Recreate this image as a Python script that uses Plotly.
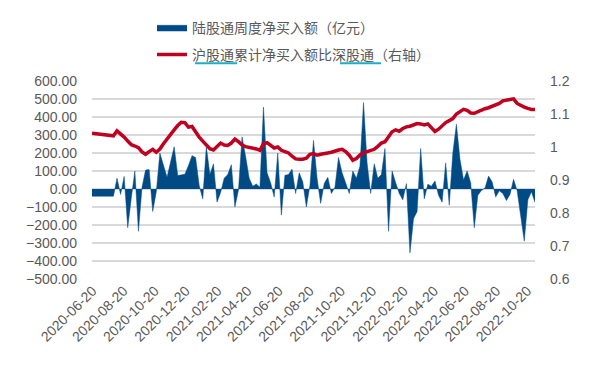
import pandas as pd
import plotly.graph_objects as go

# weekly dates
dates = pd.date_range("2020-06-19", periods=125, freq="7D")

# 陆股通周度净买入额（亿元）
weekly_net_buy = [
    -40, -40, -40, -40, -40, -40, -40, 60, -30, 70,
    -215, -50, 100, -235, 10, 105, 108, -125, -15, 200,
    130, 65, 150, 235, 75, 78, 82, 130, 185, 175,
    20, -55, 235, 80, 140, -73, -20, 60, 80, 135,
    -100, -5, 290, 180, 60, 15, 28, 10, 455, 90,
    35, -45, 200, -145, 76, 80, 110, -25, 90, 40,
    -100, 20, 270, 60, -80, 30, 65, -25, 10, 175,
    90, 35, -25, 100, 60, 127, 480, 145, -25, 140,
    60, 80, 225, -235, 100, 35, -25, -60, 30, -355,
    -165, -125, 225, -55, 27, 15, 45, -35, -73, 145,
    -90, 200, 360, 165, 50, 100, 35, -215, -35, -8,
    5, 72, 40, -45, -10, -25, -64, -30, 54, -10,
    -160, -290, -60, -15, -75,
]

# 沪股通累计净买入额比深股通（右轴）
sh_sz_ratio = [
    1.042, 1.041, 1.040, 1.039, 1.038, 1.036, 1.034, 1.049, 1.040, 1.030,
    1.018, 1.007, 1.003, 0.998, 0.985, 0.978, 0.986, 0.993, 0.984, 0.994,
    1.010, 1.025, 1.040, 1.052, 1.065, 1.075, 1.074, 1.060, 1.062, 1.045,
    1.030, 1.018, 1.005, 0.995, 0.991, 1.000, 1.012, 1.006, 1.005, 1.012,
    1.024, 1.016, 1.006, 1.001, 0.999, 0.997, 0.994, 0.990, 1.010, 1.013,
    1.005, 0.997, 1.000, 0.990, 0.986, 0.982, 0.972, 0.964, 0.963, 0.963,
    0.966, 0.978, 0.980, 0.975, 0.978, 0.981, 0.982, 0.984, 0.988, 0.991,
    0.993, 0.986, 0.975, 0.960, 0.965, 0.976, 0.982, 0.986, 0.989, 0.993,
    1.002, 1.012, 1.016, 1.030, 1.046, 1.052, 1.048, 1.056, 1.061, 1.063,
    1.066, 1.071, 1.070, 1.067, 1.070, 1.058, 1.047, 1.054, 1.064, 1.074,
    1.080, 1.086, 1.100, 1.108, 1.114, 1.111, 1.103, 1.102, 1.107, 1.112,
    1.116, 1.119, 1.124, 1.127, 1.132, 1.140, 1.142, 1.143, 1.146, 1.132,
    1.125, 1.121, 1.117, 1.114, 1.114,
]

x_tick_labels = [
    "2020-06-20", "2020-08-20", "2020-10-20", "2020-12-20", "2021-02-20",
    "2021-04-20", "2021-06-20", "2021-08-20", "2021-10-20", "2021-12-20",
    "2022-02-20", "2022-04-20", "2022-06-20", "2022-08-20", "2022-10-20",
]
left_ticks = [600, 500, 400, 300, 200, 100, 0, -100, -200, -300, -400, -500]
right_ticks = [1.2, 1.1, 1.0, 0.9, 0.8, 0.7, 0.6]

BLUE = "#004A86"
RED = "#C00020"
GRAY = "#595959"
GRID = "#D9D9D9"

fig = go.Figure()
fig.add_trace(go.Scatter(
    x=dates, y=weekly_net_buy, name="陆股通周度净买入额（亿元）",
    mode="lines", fill="tozeroy", fillcolor=BLUE,
    line=dict(color=BLUE, width=0.5), legendgroup="a",
))
fig.add_trace(go.Scatter(
    x=dates, y=sh_sz_ratio, name="沪股通累计净买入额比深股通（右轴）",
    mode="lines", line=dict(color=RED, width=3.5), yaxis="y2", legendgroup="b",
))

W, H = 593, 369
L, R, T, B = 92, 58, 79, 90
pw, ph = W - L - R, H - T - B


def px_x(p):
    return (p - L) / pw


def px_y(p):
    return (H - B - p) / ph


underline_color = "#1AAFC9"
shapes = [
    dict(type="line", xref="paper", yref="paper",
         x0=px_x(195), x1=px_x(237), y0=px_y(61), y1=px_y(61),
         line=dict(color=underline_color, width=2)),
    dict(type="line", xref="paper", yref="paper",
         x0=px_x(340), x1=px_x(381), y0=px_y(61), y1=px_y(61),
         line=dict(color=underline_color, width=2)),
]

fig.update_layout(
    width=W, height=H,
    margin=dict(l=L, r=R, t=T, b=B),
    paper_bgcolor="white", plot_bgcolor="white",
    font=dict(family="Liberation Sans, Arial, sans-serif", size=14, color=GRAY),
    showlegend=True,
    legend=dict(
        x=px_x(152), y=px_y(9), xanchor="left", yanchor="top",
        font=dict(family="Noto Sans CJK SC", size=14, color=GRAY),
        tracegroupgap=6, bgcolor="rgba(0,0,0,0)",
    ),
    xaxis=dict(
        type="date",
        range=[dates[0], dates[-1]],
        tickvals=x_tick_labels, ticktext=x_tick_labels,
        tickangle=-45, showgrid=False, showline=False, zeroline=False,
        ticks="", tickfont=dict(size=14, color=GRAY),
    ),
    yaxis=dict(
        range=[-500, 600], tickvals=left_ticks, tickformat=".2f",
        showgrid=True, gridcolor=GRID, gridwidth=1.5, zeroline=False,
        showline=False, ticks="", tickfont=dict(size=14, color=GRAY),
        ticklabelstandoff=14,
    ),
    yaxis2=dict(
        range=[0.6, 1.2], tickvals=right_ticks, overlaying="y", side="right",
        showgrid=False, zeroline=False, showline=False, ticks="",
        tickfont=dict(size=14, color=GRAY), ticklabelstandoff=14,
    ),
    shapes=shapes,
)

fig.write_html(
    "out.html",
    config={"displayModeBar": False},
    post_script="document.body.style.margin='0';",
)
